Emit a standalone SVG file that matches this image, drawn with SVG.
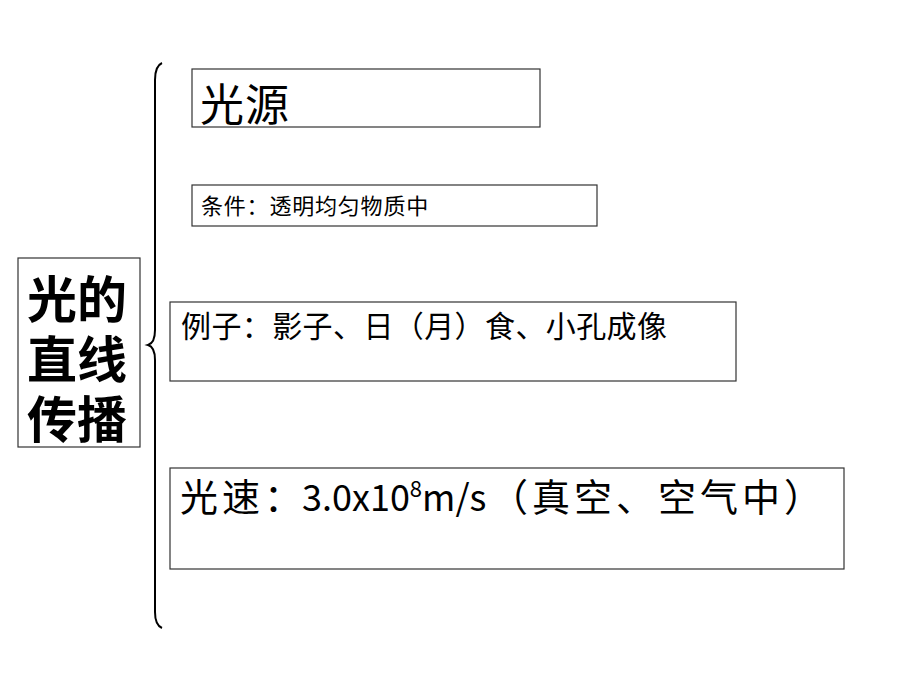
<svg xmlns="http://www.w3.org/2000/svg" width="920" height="690" viewBox="0 0 920 690">
<style>
.box{fill:#fff;stroke:#333;stroke-width:1.2}
.t{font-family:"Noto Sans CJK SC","Liberation Sans",sans-serif;fill:#000}
.b{font-weight:bold}
</style>
<rect width="920" height="690" fill="#fff"/>
<g id="main">
<rect class="box" x="18" y="258" width="122" height="189"/>
<text class="t b" font-size="50"><tspan x="27" y="318">光的</tspan><tspan x="27" y="378">直线</tspan><tspan x="27" y="438">传播</tspan></text>
</g>
<g id="connectors">
<path d="M162,63 Q155,66 155,80 L155,330 Q155,343 148,345 Q155,347 155,360 L155,612 Q155,625 162,628" fill="none" stroke="#000" stroke-width="2"/>
</g>
<g id="n1">
<rect class="box" x="192" y="69" width="348" height="58"/>
<text class="t" x="200" y="121" font-size="44" letter-spacing="1">光源</text>
</g>
<g id="n2">
<rect class="box" x="192" y="185" width="405" height="41"/>
<text class="t" x="201" y="214" font-size="22" letter-spacing="0.8">条件：透明均匀物质中</text>
</g>
<g id="n3">
<rect class="box" x="170" y="302" width="566" height="79"/>
<text class="t" x="181" y="337" font-size="30" letter-spacing="0.4">例子：影子、日（月）食、小孔成像</text>
</g>
<g id="n4">
<rect class="box" x="170" y="468" width="674" height="101"/>
<text class="t" y="511" font-size="36"><tspan x="180" font-size="38" letter-spacing="4">光速：</tspan><tspan x="302">3.0x10</tspan><tspan font-size="22" dy="-14">8</tspan><tspan dy="14">m/s</tspan><tspan x="490" font-size="38" letter-spacing="4">（真空、空气中）</tspan></text>
</g>
</svg>
